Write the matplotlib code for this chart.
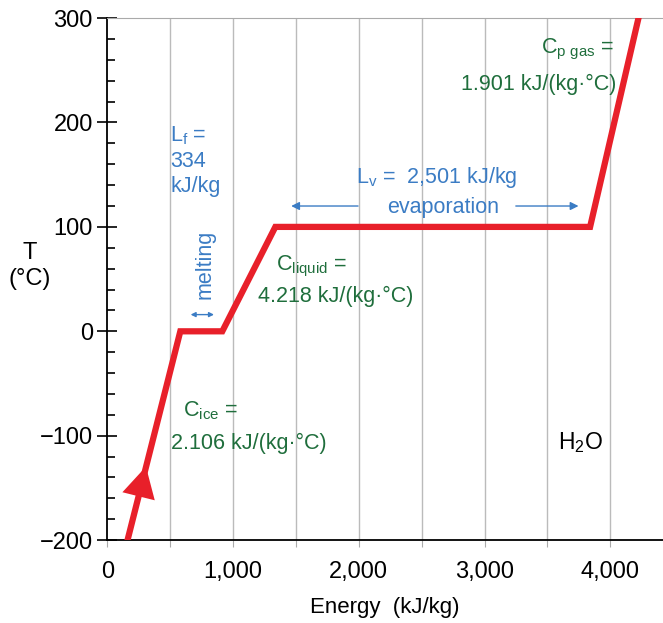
import matplotlib.pyplot as plt
import numpy as np

plt.rcParams['font.family'] = ['Liberation Sans', 'DejaVu Sans']
plt.rcParams['mathtext.fontset'] = 'custom'
plt.rcParams['mathtext.rm'] = 'Liberation Sans'

# heating curve of water
energy = [160, 580, 914, 1336, 3840, 4225]
temp = [-200, 0, 0, 100, 100, 300]

x_ticks = np.arange(0, 4001, 500)
x_tick_labels = ['0', '', '1,000', '', '2,000', '', '3,000', '', '4,000']
y_ticks = [-200, -100, 0, 100, 200, 300]

red = '#e8202a'
green = '#1f6e3c'
blue = '#3b7cc4'

fig = plt.figure(figsize=(6.63, 6.23), dpi=100)
ax = fig.add_axes([0.162, 0.133, 0.838, 0.838])

# vertical grey grid every 500
for gx in x_ticks[1:]:
    ax.axvline(gx, color='#bbbbbb', lw=1, zorder=0)

ax.plot(energy, temp, color=red, lw=4.5, solid_joinstyle='miter', zorder=3)

# arrow head on the ice segment
ax.annotate('', xy=(312, -127), xytext=(250, -157),
            arrowprops=dict(arrowstyle='-|>,head_length=0.55,head_width=0.3',
                            mutation_scale=40, color=red, lw=0),
            zorder=4)

ax.set_xlim(0, 4420)
ax.set_ylim(-200, 300)

ax.set_xticks(x_ticks)
ax.set_xticklabels(x_tick_labels, fontsize=17)
ax.tick_params(axis='x', direction='out', length=5, color='#aaaaaa', pad=10)

ax.set_yticks(y_ticks)
ax.set_yticklabels([str(v).replace('-', '\u2212') for v in y_ticks], fontsize=17)
ax.set_yticks(np.arange(-200, 301, 20), minor=True)
ax.tick_params(axis='y', which='major', direction='inout', length=15, width=1.2, pad=3)
ax.tick_params(axis='y', which='minor', direction='in', length=6, width=1.2)

ax.spines['right'].set_visible(False)
ax.spines['top'].set_color('#aaaaaa')
ax.spines['left'].set_linewidth(1.3)
ax.spines['bottom'].set_linewidth(1.3)

ax.set_xlabel('Energy  (kJ/kg)', fontsize=16, labelpad=10)
ax.set_ylabel('T\n(\u00b0C)', fontsize=17, rotation=0, ha='center', va='center')
ax.yaxis.set_label_coords(-0.14, 0.525)

fs = 15.5
# gas
ax.text(4030, 270, r'C$_{\mathrm{p\ gas}}$ =', color=green, fontsize=fs, ha='right', va='center')
ax.text(4050, 236, '1.901 kJ/(kg\u00b7\u00b0C)', color=green, fontsize=fs,
        ha='right', va='center')

# fusion
ax.text(500, 163, 'L$_{\\mathrm{f}}$ =\n334\nkJ/kg', color=blue, fontsize=fs,
        ha='left', va='center', linespacing=1.25)
ax.text(775, 64, 'melting', color=blue, fontsize=fs, rotation=90, ha='center', va='center')
ax.annotate('', xy=(640, 16), xytext=(870, 16),
            arrowprops=dict(arrowstyle='<|-|>', color=blue, lw=1, mutation_scale=7))

# vaporisation
ax.text(2620, 147, 'L$_{\\mathrm{v}}$ =  2,501 kJ/kg', color=blue, fontsize=fs,
        ha='center', va='center')
ax.text(2670, 119, 'evaporation', color=blue, fontsize=fs, ha='center', va='center')
ax.annotate('', xy=(1440, 120), xytext=(2016, 120),
            arrowprops=dict(arrowstyle='-|>', color=blue, lw=1, mutation_scale=12))
ax.annotate('', xy=(3770, 120), xytext=(3227, 120),
            arrowprops=dict(arrowstyle='-|>', color=blue, lw=1, mutation_scale=12))

# liquid
ax.text(1340, 62, r'C$_{\mathrm{liquid}}$ =', color=green, fontsize=fs, ha='left', va='center')
ax.text(1195, 33, '4.218 kJ/(kg\u00b7\u00b0C)', color=green, fontsize=fs, ha='left', va='center')

# ice
ax.text(600, -76, r'C$_{\mathrm{ice}}$ =', color=green, fontsize=fs, ha='left', va='center')
ax.text(505, -107, '2.106 kJ/(kg\u00b7\u00b0C)', color=green, fontsize=fs, ha='left', va='center')

ax.text(3765, -107, r'H$_2$O', color='black', fontsize=16.5, ha='center', va='center')

fig.savefig('out.png', dpi=100)
